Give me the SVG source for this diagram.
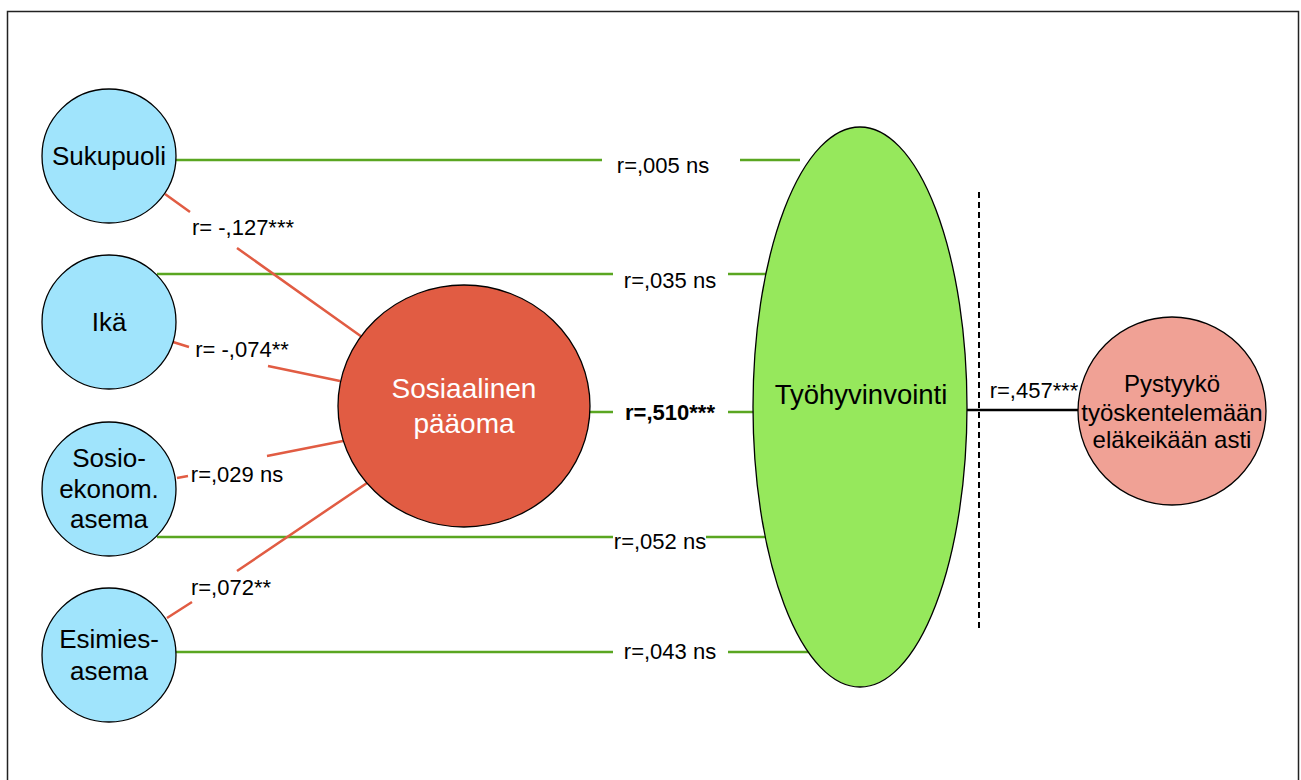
<svg xmlns="http://www.w3.org/2000/svg" width="1301" height="780" viewBox="0 0 1301 780">
<style>
.node{stroke:#000;stroke-width:1.3}
.blue{fill:#a0e4fc}
.t{font-family:"Liberation Sans",Arial,sans-serif;fill:#000;text-anchor:middle}
.nl{font-size:26px}
.el{font-size:22px}
.g{stroke:#5aa621;stroke-width:2.5;fill:none}
.r{stroke:#e15c43;stroke-width:2.5;fill:none}
</style>
<rect x="7.5" y="11.5" width="1291" height="800" fill="#fff" stroke="#222" stroke-width="1.5"/>
<g id="connectors">
<path class="g" d="M176 160H602M740 160H800"/>
<path class="g" d="M157 274H613M728 274H770"/>
<path class="g" d="M590 412H613M728 412H760"/>
<path class="g" d="M157 537H613M706 537H770"/>
<path class="g" d="M176 652H613M728 652H812"/>
<path class="r" d="M165 194L190 212M237 248L362 337"/>
<path class="r" d="M173 342L189 347M268 366L340 381"/>
<path class="r" d="M177 478L188 476M267 456L343 441"/>
<path class="r" d="M167 618L192 602M237 571L367 483"/>
<path d="M967 410H1080" stroke="#000" stroke-width="2.5"/>
<path d="M979 192V630" stroke="#000" stroke-width="2" stroke-dasharray="6,4"/>
<text class="t el" x="663" y="173">r=,005 ns</text>
<text class="t el" x="670" y="288">r=,035 ns</text>
<text class="t el" x="670" y="420" font-weight="bold">r=,510***</text>
<text class="t el" x="660" y="549">r=,052 ns</text>
<text class="t el" x="670" y="659">r=,043 ns</text>
<text class="t el" x="243" y="235">r= -,127***</text>
<text class="t el" x="242" y="357">r= -,074**</text>
<text class="t el" x="237" y="482">r=,029 ns</text>
<text class="t el" x="231" y="595">r=,072**</text>
<text class="t el" x="1034" y="398">r=,457***</text>
</g>
<g id="sukupuoli">
<circle class="node blue" cx="109" cy="156" r="67"/>
<text class="t nl" x="109" y="165">Sukupuoli</text>
</g>
<g id="ika">
<circle class="node blue" cx="109" cy="322" r="67"/>
<text class="t nl" x="109" y="331">Ikä</text>
</g>
<g id="sosio">
<circle class="node blue" cx="109" cy="489" r="67"/>
<text class="t nl" x="109" y="467">Sosio-</text>
<text class="t nl" x="109" y="498">ekonom.</text>
<text class="t nl" x="109" y="528">asema</text>
</g>
<g id="esimies">
<circle class="node blue" cx="109" cy="655" r="67"/>
<text class="t nl" x="109" y="648">Esimies-</text>
<text class="t nl" x="109" y="680">asema</text>
</g>
<g id="sosiaalinen">
<ellipse class="node" cx="464" cy="406" rx="126" ry="121" fill="#e15c43"/>
<text class="t" x="464" y="398" font-size="28" style="fill:#fff">Sosiaalinen</text>
<text class="t" x="464" y="433" font-size="28" style="fill:#fff">pääoma</text>
</g>
<g id="tyohyvinvointi">
<ellipse class="node" cx="860" cy="407" rx="107" ry="280" fill="#96e85c"/>
<text class="t" x="861" y="404" font-size="27.5">Työhyvinvointi</text>
</g>
<g id="pystyyko">
<circle class="node" cx="1172" cy="411" r="94" fill="#f0a195"/>
<text class="t" x="1172" y="392" font-size="24">Pystyykö</text>
<text class="t" x="1172" y="421" font-size="24">työskentelemään</text>
<text class="t" x="1172" y="448" font-size="24">eläkeikään asti</text>
</g>
</svg>
